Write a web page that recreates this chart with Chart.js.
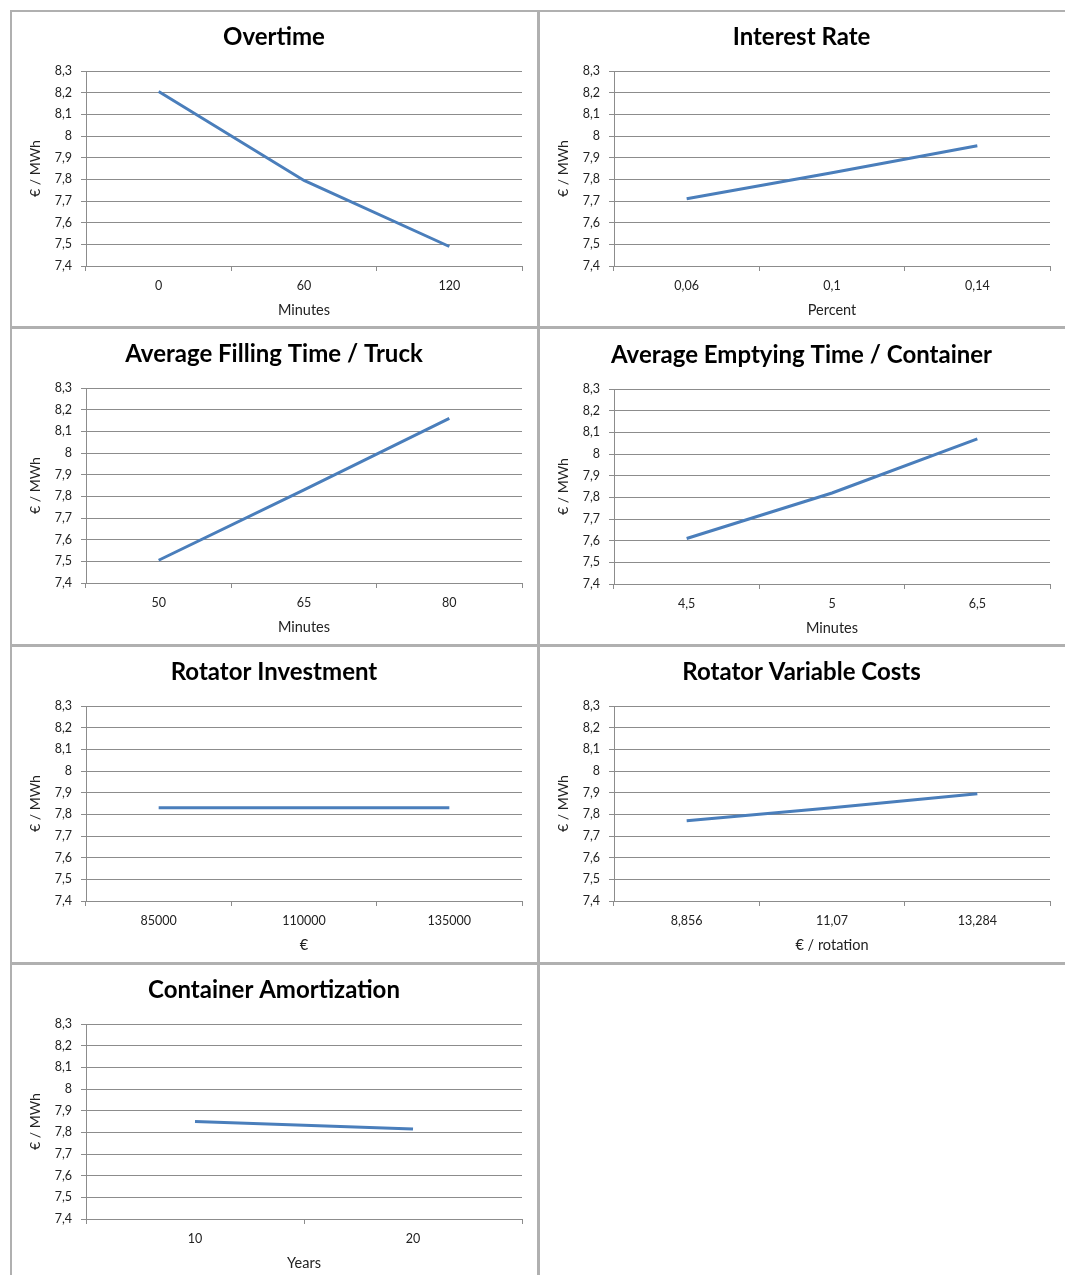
<!DOCTYPE html>
<html>
<head>
<meta charset="utf-8">
<script src="https://cdn.jsdelivr.net/npm/chart.js@4.4.0/dist/chart.umd.min.js"></script>
<style>
body { margin: 0; width: 1065px; height: 1275px; overflow: hidden; background: #fff; position: relative; }
.panel { position: absolute; border: 2px solid #b0b0b0; box-sizing: border-box; }
canvas { position: absolute; }
</style>
</head>
<body>
<script>
const yTicks = ['7,4', '7,5', '7,6', '7,7', '7,8', '7,9', '8', '8,1', '8,2', '8,3'];

const overtimeLabels = ['0', '60', '120'];
const overtimeValues = [8.205, 7.795, 7.49];

const interestLabels = ['0,06', '0,1', '0,14'];
const interestValues = [7.71, 7.83, 7.955];

const fillingLabels = ['50', '65', '80'];
const fillingValues = [7.505, 7.83, 8.16];

const emptyingLabels = ['4,5', '5', '6,5'];
const emptyingValues = [7.61, 7.82, 8.07];

const investLabels = ['85000', '110000', '135000'];
const investValues = [7.83, 7.83, 7.83];

const variableLabels = ['8,856', '11,07', '13,284'];
const variableValues = [7.77, 7.83, 7.895];

const amortLabels = ['10', '20'];
const amortValues = [7.85, 7.815];

const FONT = 'Lato, "Open Sans", sans-serif';

function addPanel(x, y, w, h) {
    const div = document.createElement('div');
    div.className = 'panel';
    div.style.left = x + 'px';
    div.style.top = y + 'px';
    div.style.width = w + 'px';
    div.style.height = h + 'px';
    document.body.appendChild(div);
}

function makeChart(x, y, w, title, xTitle, labels, values) {
    const h = 317;
    const canvas = document.createElement('canvas');
    canvas.width = w;
    canvas.height = h;
    canvas.style.left = x + 'px';
    canvas.style.top = y + 'px';
    document.body.appendChild(canvas);

    new Chart(canvas, {
        type: 'line',
        data: {
            labels: labels,
            datasets: [{
                data: values,
                borderColor: '#4a7ebb',
                borderWidth: 3,
                pointRadius: 0,
                tension: 0,
                fill: false
            }]
        },
        options: {
            responsive: false,
            animation: false,
            layout: { padding: 0 },
            plugins: {
                legend: { display: false },
                tooltip: { enabled: false },
                title: {
                    display: true,
                    text: title,
                    color: '#000',
                    font: { family: FONT, size: 24, weight: 'bold' },
                    padding: { top: 12.6, bottom: 19.6 }
                }
            },
            scales: {
                x: {
                    offset: true,
                    afterFit: (scale) => { scale.height = h - 256; },
                    grid: {
                        offset: true,
                        drawOnChartArea: false,
                        drawTicks: true,
                        tickLength: 5,
                        color: '#8c8c8c'
                    },
                    border: { display: true, color: '#8c8c8c' },
                    ticks: {
                        color: '#222',
                        padding: 7,
                        maxRotation: 0,
                        font: { family: FONT, size: 12.5 }
                    },
                    title: {
                        display: true,
                        text: xTitle,
                        color: '#222',
                        font: { family: FONT, size: 14.5 },
                        padding: { top: 0, bottom: 8 }
                    }
                },
                y: {
                    min: 7.4,
                    max: 8.3,
                    afterFit: (scale) => { scale.width = 76; },
                    afterBuildTicks: (scale) => {
                        scale.ticks = yTicks.map((t) => ({ value: parseFloat(t.replace(',', '.')) }));
                    },
                    grid: {
                        drawTicks: true,
                        tickLength: 5,
                        color: '#8c8c8c'
                    },
                    border: { display: true, color: '#8c8c8c' },
                    ticks: {
                        color: '#222',
                        padding: 9,
                        font: { family: FONT, size: 12.5 },
                        callback: (value) => String(Math.round(value * 10) / 10).replace('.', ',')
                    },
                    title: {
                        display: true,
                        text: '€ / MWh',
                        color: '#222',
                        font: { family: FONT, size: 14 },
                        padding: { top: 17, bottom: 0 }
                    }
                },
                // empty right-hand strip so the title stays centred on the whole panel
                spacer: {
                    axis: 'y',
                    position: 'right',
                    afterFit: (scale) => { scale.width = w - 512; },
                    grid: { display: false },
                    border: { display: false },
                    ticks: { display: false }
                }
            }
        }
    });
}

// panel frames
addPanel(10, 10, 529, 318);
addPanel(538, 10, 540, 318);
addPanel(10, 327, 529, 319);
addPanel(538, 327, 540, 319);
addPanel(10, 645, 529, 319);
addPanel(538, 645, 540, 319);
addPanel(10, 963, 529, 330);
addPanel(538, 963, 540, 330);

makeChart(10, 10, 528, 'Overtime', 'Minutes', overtimeLabels, overtimeValues);
makeChart(538, 10, 527, 'Interest Rate', 'Percent', interestLabels, interestValues);
makeChart(10, 327, 528, 'Average Filling Time / Truck', 'Minutes', fillingLabels, fillingValues);
makeChart(538, 328, 527, 'Average Emptying Time / Container', 'Minutes', emptyingLabels, emptyingValues);
makeChart(10, 645, 528, 'Rotator Investment', '€', investLabels, investValues);
makeChart(538, 645, 527, 'Rotator Variable Costs', '€ / rotation', variableLabels, variableValues);
makeChart(10, 963, 528, 'Container Amortization', 'Years', amortLabels, amortValues);
</script>
</body>
</html>
